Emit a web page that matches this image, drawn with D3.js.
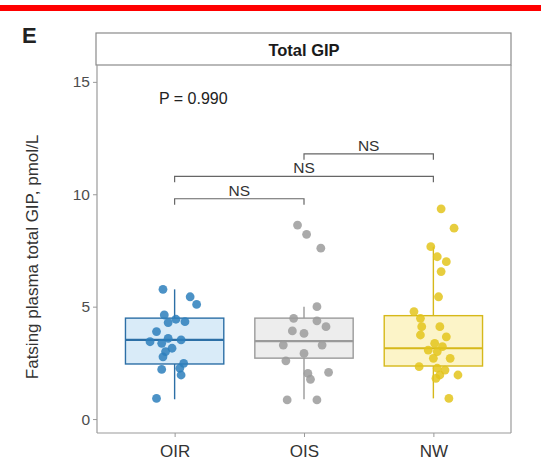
<!DOCTYPE html>
<html>
<head>
<meta charset="utf-8">
<script src="https://cdn.jsdelivr.net/npm/d3@7"></script>
<style>
  body { margin: 0; background: #fff; }
  svg { font-family: "Liberation Sans", Arial, sans-serif; }
</style>
</head>
<body>
<svg id="chart" width="541" height="464"></svg>
<script>
// groups and tick labels
var groups = ["OIR", "OIS", "NW"];
var yTicks = [0, 5, 10, 15];

// individual points: [jitter (fraction of step), value]
var oirPoints = [[-0.09, 5.77], [0.12, 5.44], [0.17, 5.10], [-0.08, 4.63], [-0.05, 4.29],
    [0.01, 4.44], [0.08, 4.33], [-0.14, 3.89], [-0.05, 3.59], [-0.19, 3.44], [0.05, 3.52],
    [-0.10, 3.37], [-0.02, 3.15], [-0.07, 3.00], [-0.09, 2.77], [0.07, 2.48], [0.04, 2.26],
    [-0.10, 2.21], [0.05, 1.96], [-0.14, 0.92]];
var oisPoints = [[-0.05, 8.63], [0.02, 8.22], [0.13, 7.60], [0.10, 5.00], [-0.08, 4.48],
    [0.10, 4.37], [0.17, 4.11], [-0.09, 3.92], [0.00, 3.81], [-0.16, 3.29], [0.14, 3.29],
    [0.00, 2.92], [-0.14, 2.59], [0.03, 2.03], [0.19, 2.08], [0.05, 1.77], [-0.13, 0.85],
    [0.10, 0.85]];
var nwPoints = [[0.06, 9.35], [0.16, 8.49], [-0.02, 7.67], [0.03, 7.22], [0.10, 7.00],
    [0.06, 6.56], [0.04, 5.44], [-0.15, 4.78], [-0.10, 4.48], [-0.09, 4.11], [0.05, 4.11],
    [-0.10, 3.74], [0.10, 3.66], [0.01, 3.37], [0.07, 3.22], [-0.04, 3.07], [0.03, 3.00],
    [0.13, 2.70], [0.00, 2.70], [-0.11, 2.33], [0.03, 2.26], [0.09, 2.18], [0.05, 1.96],
    [0.19, 1.96], [0.02, 1.81], [0.12, 0.92]];

// box summaries
var whiskerLow = [0.88, 0.88, 0.92];
var q1 = [2.45, 2.71, 2.36];
var medians = [3.52, 3.47, 3.15];
var q3 = [4.49, 4.49, 4.60];
var whiskerHigh = [5.77, 5.00, 7.67];

// comparisons
var comparisons = [
    { a: "OIR", b: "OIS", y: 9.8, label: "NS" },
    { a: "OIR", b: "NW", y: 10.8, label: "NS" },
    { a: "OIS", b: "NW", y: 11.8, label: "NS" }
];
var pLabel = "P = 0.990";

var pointColors = ["#2d7fbc", "#9b9b9b", "#e3c41c"];
var boxStroke = ["#2c6fa6", "#9a9a9a", "#d6b81a"];
var boxFill = ["#d9ebf8", "#ededed", "#fcf4c8"];

var svg = d3.select("#chart");
var plotLeft = 97, plotRight = 511, plotTop = 65, plotBottom = 433;

var x = d3.scalePoint().domain(groups).range([plotLeft, plotRight]).padding(0.6);
var y = d3.scaleLinear().domain([-0.62, 15.75]).range([plotBottom, plotTop]);
var step = x.step();
var halfBox = step * 0.38;

// red bar on top
svg.append("rect").attr("x", 0).attr("y", 5).attr("width", 541).attr("height", 6).attr("fill", "#ff0000");

// panel letter
svg.append("text").attr("x", 22).attr("y", 43).style("font-size", "22px").style("font-weight", "bold")
    .attr("fill", "#222").text("E");

// strip
svg.append("rect").attr("x", plotLeft - 1).attr("y", 33).attr("width", plotRight - plotLeft + 1).attr("height", plotTop - 33)
    .attr("fill", "#fff").attr("stroke", "#8a8a8a").attr("stroke-width", 1.2);
svg.append("text").attr("x", (plotLeft + plotRight) / 2).attr("y", 55.5).attr("text-anchor", "middle")
    .style("font-size", "16.5px").style("font-weight", "bold").attr("fill", "#1a1a1a").text("Total GIP");

// right border of panel
svg.append("line").attr("x1", plotRight).attr("x2", plotRight).attr("y1", plotTop).attr("y2", plotBottom)
    .attr("stroke", "#9a9a9a").attr("stroke-width", 1.2);

// axes
var yAxis = svg.append("g").attr("transform", "translate(" + plotLeft + ",0)")
    .call(d3.axisLeft(y).tickValues(yTicks).tickSize(4).tickPadding(3));
var xAxis = svg.append("g").attr("transform", "translate(0," + plotBottom + ")")
    .call(d3.axisBottom(x).tickSize(4).tickPadding(8));
yAxis.select(".domain").attr("d", "M0," + plotTop + "V" + plotBottom);
xAxis.select(".domain").attr("d", "M" + plotLeft + ",0H" + plotRight);
svg.selectAll(".domain").attr("stroke", "#9a9a9a").attr("stroke-width", 1.2);
svg.selectAll(".tick line").attr("stroke", "#9a9a9a");
yAxis.selectAll("text").style("font-size", "15.5px").attr("fill", "#4d4d4d").style("font-family", "Liberation Sans, Arial");
xAxis.selectAll("text").style("font-size", "17px").attr("fill", "#333").style("font-family", "Liberation Sans, Arial");

// y label
svg.append("text").attr("transform", "translate(38,257) rotate(-90)")
    .attr("text-anchor", "middle").style("font-size", "17px").attr("fill", "#333")
    .text("Fatsing plasma total GIP, pmol/L");

// boxes
var boxes = svg.append("g");
groups.forEach(function (g, i) {
    var cx = x(g);
    boxes.append("line").attr("x1", cx).attr("x2", cx).attr("y1", y(whiskerHigh[i])).attr("y2", y(q3[i]))
        .attr("stroke", boxStroke[i]).attr("stroke-width", 1.4);
    boxes.append("line").attr("x1", cx).attr("x2", cx).attr("y1", y(q1[i])).attr("y2", y(whiskerLow[i]))
        .attr("stroke", boxStroke[i]).attr("stroke-width", 1.4);
    boxes.append("rect").attr("x", cx - halfBox).attr("width", halfBox * 2)
        .attr("y", y(q3[i])).attr("height", y(q1[i]) - y(q3[i]))
        .attr("fill", boxFill[i]).attr("stroke", boxStroke[i]).attr("stroke-width", 1.4);
    boxes.append("line").attr("x1", cx - halfBox).attr("x2", cx + halfBox)
        .attr("y1", y(medians[i])).attr("y2", y(medians[i]))
        .attr("stroke", boxStroke[i]).attr("stroke-width", 2.2);
});

// jittered points
var allPoints = [oirPoints, oisPoints, nwPoints];
allPoints.forEach(function (pts, i) {
    svg.append("g").selectAll("circle")
        .data(pts).enter().append("circle")
        .attr("cx", function (d) { return x(groups[i]) + d[0] * step; })
        .attr("cy", function (d) { return y(d[1]); })
        .attr("r", 4.4)
        .attr("fill", pointColors[i])
        .attr("fill-opacity", 0.85);
});

// significance brackets
comparisons.forEach(function (c) {
    var x1 = x(c.a), x2 = x(c.b), yy = y(c.y);
    svg.append("path")
        .attr("d", "M" + x1 + "," + (yy + 6) + "V" + yy + "H" + x2 + "V" + (yy + 6))
        .attr("fill", "none").attr("stroke", "#666").attr("stroke-width", 1.2);
    svg.append("text").attr("x", (x1 + x2) / 2).attr("y", yy - 3).attr("text-anchor", "middle")
        .style("font-size", "15.5px").attr("fill", "#333").text(c.label);
});

// overall p value
svg.append("text").attr("x", 159).attr("y", 104).style("font-size", "16px").attr("fill", "#222").text(pLabel);
</script>
</body>
</html>
